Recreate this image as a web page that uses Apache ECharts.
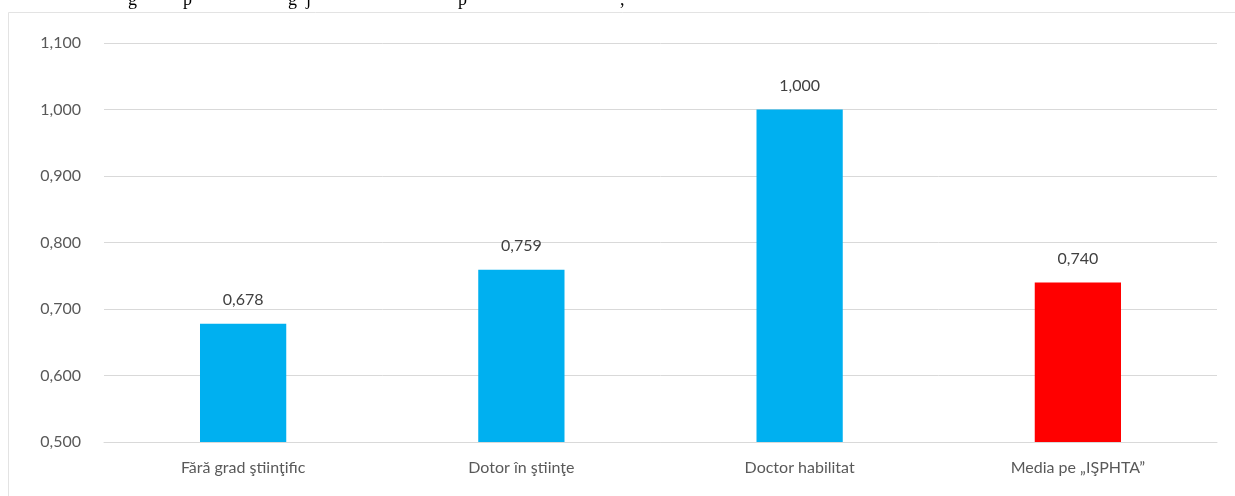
<!DOCTYPE html>
<html>
<head>
<meta charset="utf-8">
<script src="https://cdn.jsdelivr.net/npm/echarts@6/dist/echarts.min.js"></script>
<style>
html,body{margin:0;padding:0;background:#fff;}
#c{width:1235px;height:496px;}
</style>
</head>
<body>
<div id="c"></div>
<script>
const categories = ["Fără grad ştiinţific", "Dotor în ştiinţe", "Doctor habilitat", "Media pe „IŞPHTA”"];
const values = [0.678, 0.759, 1.000, 0.740];
const barColors = ["#00B0F0", "#00B0F0", "#00B0F0", "#FF0000"];
const yMin = 0.5, yMax = 1.1, yStep = 0.1;
const captionFragments = ["g", "p", "g", "j", "p", ","];

const fmt = v => v.toFixed(3).replace('.', ',');
const font = "Lato, 'Open Sans', sans-serif";

const chart = echarts.init(document.getElementById('c'), null, {renderer: 'canvas'});
const fragX = [128, 183, 288, 306, 458, 620];
chart.setOption({
  animation: false,
  backgroundColor: '#fff',
  graphic: [
    {type: 'rect', shape: {x: 8.5, y: 12.5, width: 1240, height: 500},
     style: {fill: 'none', stroke: '#e3e3e3', lineWidth: 1}, z: -1},
    ...captionFragments.map((t, i) => ({
      type: 'text', x: fragX[i], y: 9,
      style: {text: t, font: "18px 'Liberation Serif', serif", fill: '#000',
        verticalAlign: 'bottom'}
    }))
  ],
  grid: {left: 104, right: 18, top: 43, bottom: 54, containLabel: false},
  xAxis: {
    type: 'category',
    data: categories,
    axisLine: {show: true, lineStyle: {color: '#d9d9d9', width: 1}},
    axisTick: {show: false},
    axisLabel: {color: '#595959', fontSize: 16, fontFamily: font, margin: 18}
  },
  yAxis: {
    type: 'value',
    min: yMin, max: yMax, interval: yStep,
    axisLine: {show: false},
    axisTick: {show: false},
    splitLine: {lineStyle: {color: '#d9d9d9', width: 1}},
    axisLabel: {color: '#595959', fontSize: 16, fontFamily: font, margin: 23,
      formatter: v => fmt(v)}
  },
  series: [{
    type: 'bar',
    barWidth: '31%',
    data: values.map((v, i) => ({value: v, itemStyle: {color: barColors[i]}})),
    label: {show: true, position: 'top', distance: 16, color: '#404040',
      fontSize: 16, fontFamily: font, formatter: p => fmt(p.value)}
  }]
});
</script>
</body>
</html>
